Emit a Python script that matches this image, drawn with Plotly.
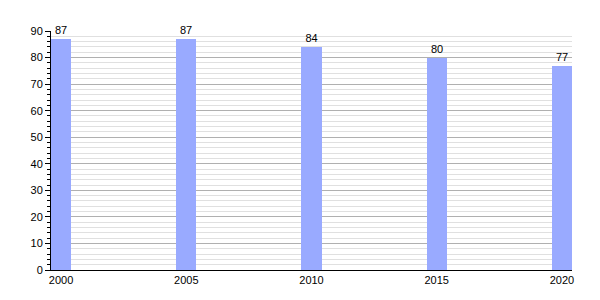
import plotly.graph_objects as go

years = [2000, 2005, 2010, 2015, 2020]
values = [87, 87, 84, 80, 77]
labels = [str(v) for v in values]
y_ticks = list(range(0, 91, 10))

fig = go.Figure(go.Bar(
    x=years, y=values, text=labels, textposition="outside",
    textfont=dict(size=11, color="black", family="Liberation Sans"),
    marker=dict(color="#99aaff", line=dict(width=0)),
    width=0.8, cliponaxis=False,
))

fig.update_layout(
    width=600, height=300,
    margin=dict(l=51, r=28, t=31, b=30),
    paper_bgcolor="white", plot_bgcolor="white",
    font=dict(family="Liberation Sans", size=11, color="black"),
    showlegend=False,
    bargap=0,
)
fig.update_xaxes(
    range=[1999.6, 2020.4], tickvals=years, ticktext=[str(y) for y in years],
    showgrid=False, showline=True, linecolor="black", linewidth=1,
    ticks="", tickfont=dict(size=11), zeroline=False,
)
fig.update_yaxes(
    range=[0, 90], tickvals=y_ticks, showgrid=True, gridcolor="#b0b0b0", gridwidth=1,
    showline=True, linecolor="black", linewidth=1,
    ticks="outside", ticklen=5, tickcolor="black",
    minor=dict(dtick=2, showgrid=True, gridcolor="#e0e0e0", ticks="outside", ticklen=3, tickcolor="black"),
    zeroline=False, tickfont=dict(size=11),
)

fig.write_html("out.html")
